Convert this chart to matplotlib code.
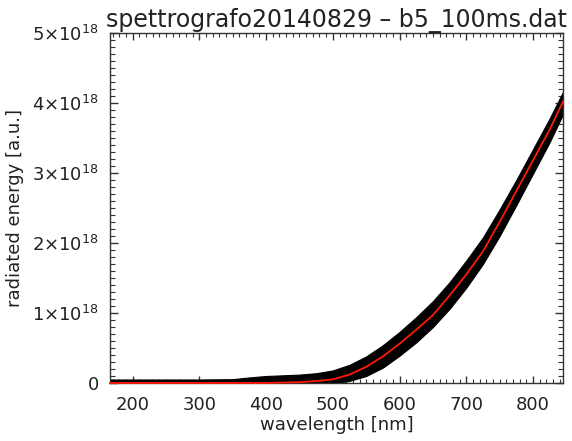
import matplotlib
matplotlib.use("Agg")
import matplotlib.pyplot as plt
import numpy as np
from matplotlib.ticker import FixedLocator, MultipleLocator, FuncFormatter

# measured spectrum envelope (units of 1e18) and fitted curve
WAVELENGTH = [166, 200, 250, 300, 350, 375, 400, 425, 450, 475, 500, 525, 550,
              575, 600, 625, 650, 675, 700, 725, 750, 775, 800, 825, 845]
DATA_LOW = [-0.05, -0.05, -0.05, -0.05, -0.05, -0.05, -0.05, -0.05, -0.05, -0.03,
            -0.01, 0.03, 0.10, 0.22, 0.39, 0.58, 0.80, 1.06, 1.36, 1.70, 2.10,
            2.54, 2.99, 3.44, 3.84]
DATA_HIGH = [0.05, 0.05, 0.05, 0.05, 0.055, 0.08, 0.10, 0.11, 0.12, 0.14, 0.18,
             0.26, 0.38, 0.54, 0.73, 0.94, 1.17, 1.44, 1.75, 2.08, 2.48, 2.90,
             3.34, 3.78, 4.16]
FIT = [0.0, 0.0, 0.0, 0.0, 0.0, 0.0, 0.0, 0.006, 0.012, 0.028, 0.052, 0.12, 0.23,
       0.38, 0.56, 0.76, 0.97, 1.25, 1.55, 1.88, 2.30, 2.74, 3.18, 3.62, 4.02]
SCALE = 1e18

X_TICKS = [200, 300, 400, 500, 600, 700, 800]
Y_TICKS = [0, 1, 2, 3, 4, 5]

TITLE = "spettrografo20140829 \u2013 b5_100ms.dat"
XLABEL = "wavelength [nm]"
YLABEL = "radiated energy [a.u.]"

TEXT_COLOR = "#222222"
AXIS_COLOR = "#333333"

plt.rcParams["font.family"] = ["DejaVu Sans"]
plt.rcParams["mathtext.default"] = "regular"

fig = plt.figure(figsize=(5.72, 4.41), dpi=100)
ax = fig.add_axes([110 / 572, 1 - 383 / 441, 453 / 572, 350 / 441])

wl = np.array(WAVELENGTH)
ax.fill_between(wl, np.array(DATA_LOW) * SCALE, np.array(DATA_HIGH) * SCALE,
                color="black", linewidth=0.8, edgecolor="black", zorder=2)
ax.plot(wl, np.array(FIT) * SCALE, color="#ff1a00", linewidth=1.3, zorder=4,
        clip_on=False)

ax.set_xlim(166, 845)
ax.set_ylim(0, 5 * SCALE)

ax.xaxis.set_major_locator(FixedLocator(X_TICKS))
ax.xaxis.set_minor_locator(MultipleLocator(10))
ax.yaxis.set_major_locator(FixedLocator([v * SCALE for v in Y_TICKS]))
ax.yaxis.set_minor_locator(MultipleLocator(0.1 * SCALE))


def energy_label(v, pos):
    n = int(round(v / SCALE))
    return "0" if n == 0 else f"{n}\u00d710$^{{18}}$"


ax.yaxis.set_major_formatter(FuncFormatter(energy_label))

for spine in ax.spines.values():
    spine.set_color(AXIS_COLOR)
    spine.set_linewidth(1.0)
    spine.set_zorder(3)

ax.tick_params(axis="both", which="both", direction="in", top=True, right=True,
               color=AXIS_COLOR, labelcolor=TEXT_COLOR, labelsize=13)
ax.tick_params(axis="x", which="major", length=5.2, width=1.0, pad=9)
ax.tick_params(axis="x", which="minor", length=2.6, width=0.8)
ax.tick_params(axis="y", which="major", length=6.0, width=1.0, pad=8)
ax.tick_params(axis="y", which="minor", length=3.4, width=0.8)

ax.set_xlabel(XLABEL, fontsize=13, color=TEXT_COLOR, labelpad=2)
ax.set_ylabel(YLABEL, fontsize=13, color=TEXT_COLOR, labelpad=6)
ax.set_title(TITLE, fontsize=17, color=TEXT_COLOR, pad=1)

fig.savefig("out.png", dpi=100)
